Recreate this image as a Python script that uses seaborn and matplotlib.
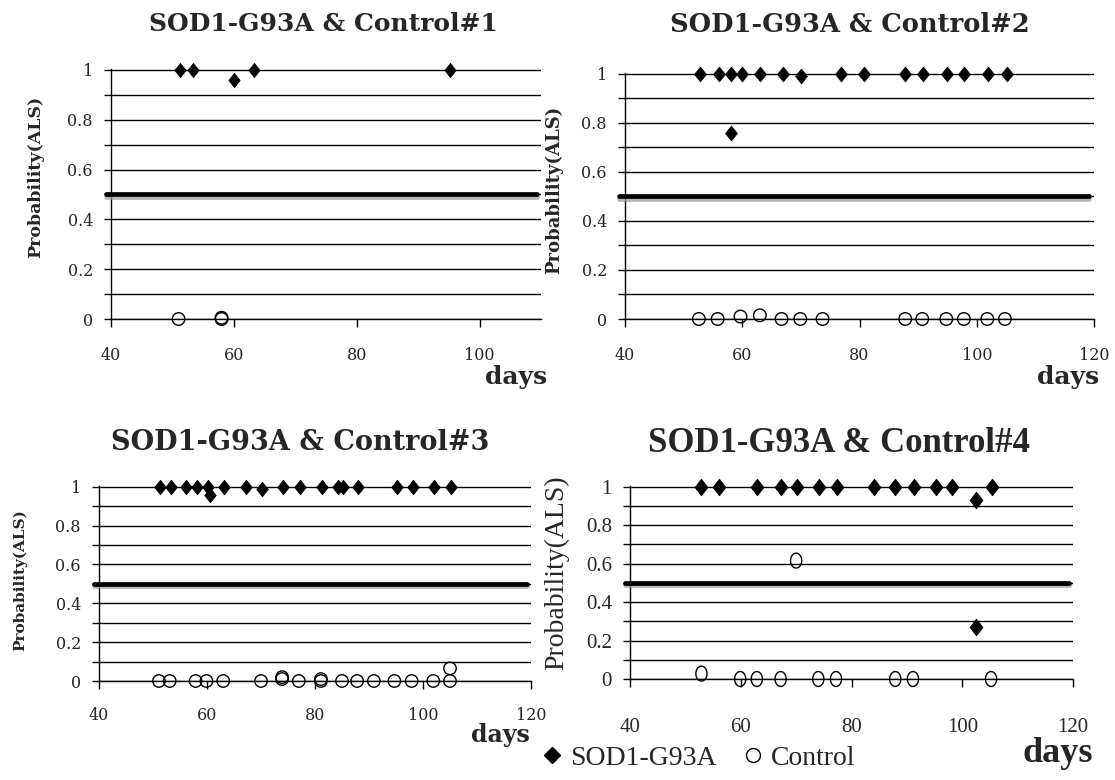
import numpy as np
import pandas as pd
import matplotlib
matplotlib.use("Agg")
import matplotlib.pyplot as plt
import matplotlib.patheffects as pe
from matplotlib.path import Path
from matplotlib.markers import MarkerStyle
from matplotlib.lines import Line2D
import seaborn as sns

sns.set_style("white")
plt.rcParams["font.family"] = ["DejaVu Serif"]

# ---------------- data ----------------
titles = ["SOD1-G93A & Control#1", "SOD1-G93A & Control#2",
          "SOD1-G93A & Control#3", "SOD1-G93A & Control#4"]
series_names = ["SOD1-G93A", "Control"]
threshold = 0.5

p1_sod_x = [51.2, 53.3, 60.1, 63.3, 95.2]
p1_sod_y = [1, 1, 0.96, 1, 1]
p1_ctl_x = [51, 58, 58]
p1_ctl_y = [0, 0, 0.005]

p2_sod_x = [52.8, 56, 58, 58, 59.9, 63, 66.9, 70, 76.9, 80.8, 87.8, 90.9, 95, 97.9, 102, 105.1]
p2_sod_y = [1, 1, 1, 0.76, 1, 1, 1, 0.99, 1, 1, 1, 1, 1, 1, 1, 1]
p2_ctl_x = [52.6, 55.8, 59.7, 63, 66.7, 69.9, 73.7, 87.8, 90.7, 94.8, 97.8, 101.8, 104.8]
p2_ctl_y = [0, 0, 0.01, 0.015, 0, 0, 0, 0, 0, 0, 0, 0, 0]

p3_sod_x = [51.3, 53.3, 56.1, 58.2, 60.2, 60.5, 63.2, 67.3, 70.1, 74.1, 77.2, 81.3,
            84.2, 85.2, 88, 95.1, 98.2, 102, 105.1]
p3_sod_y = [1, 1, 1, 1, 1, 0.956, 1, 1, 0.99, 1, 1, 1, 1, 1, 1, 1, 1, 1, 1]
p3_ctl_x = [51.1, 53.1, 57.9, 59.9, 63, 70, 73.9, 73.9, 77, 81.1, 81.1, 85, 87.8,
            90.9, 94.7, 97.9, 101.9, 105, 105]
p3_ctl_y = [0, 0, 0, 0, 0, 0, 0.02, 0.01, 0, 0.01, 0, 0, 0, 0, 0, 0, 0, 0, 0.065]

p4_sod_x = [52.9, 56.1, 63, 67.2, 70.2, 74.2, 77.3, 84, 87.9, 91.3, 95.2, 98.1, 102.4, 102.4, 105.3]
p4_sod_y = [1, 1, 1, 1, 1, 1, 1, 1, 1, 1, 1, 1, 0.93, 0.27, 1]
p4_ctl_x = [52.9, 59.9, 62.9, 67.2, 70, 74, 77.2, 87.9, 91.1, 105.2]
p4_ctl_y = [0.028, 0, 0, 0, 0.616, 0, 0, 0, 0, 0]

ytick_vals = [0, 0.2, 0.4, 0.6, 0.8, 1]
ytick_labels = ["0", "0.2", "0.4", "0.6", "0.8", "1"]
yminor_vals = [0.1, 0.3, 0.5, 0.7, 0.9]
xticks_p1 = [40, 60, 80, 100]
xticks_rest = [40, 60, 80, 100, 120]
xlims = [(40, 110), (40, 120), (40, 120), (40, 120)]

panels = [
    (p1_sod_x, p1_sod_y, p1_ctl_x, p1_ctl_y),
    (p2_sod_x, p2_sod_y, p2_ctl_x, p2_ctl_y),
    (p3_sod_x, p3_sod_y, p3_ctl_x, p3_ctl_y),
    (p4_sod_x, p4_sod_y, p4_ctl_x, p4_ctl_y),
]

# ---------------- layout ----------------
W, H = 1115, 780
fig = plt.figure(figsize=(W / 100, H / 100), dpi=100)


def rect(l, r, t, b):
    return [l / W, 1 - b / H, (r - l) / W, (b - t) / H]


def fx(x):
    return x / W


def fy(y):
    return 1 - y / H


rects = [rect(111, 541, 69, 319), rect(625, 1094, 73, 319),
         rect(99, 531, 486, 681), rect(630, 1073, 486, 679)]

diamond = MarkerStyle(Path([(0, 1), (0.8, 0), (0, -1), (-0.8, 0), (0, 1)], closed=True))
diamond4 = MarkerStyle(Path([(0, 1), (0.78, 0), (0, -1), (-0.78, 0), (0, 1)], closed=True))
th = np.linspace(0, 2 * np.pi, 60)
ellipse4 = MarkerStyle(Path(np.column_stack([0.75 * np.cos(th), np.sin(th)]), closed=True))

serif_reg = ["DejaVu Serif"]
times = ["Liberation Serif"]

xpads = [14, 14, 13, 22]
dsizes = [105, 115, 110, 145]
csizes = [82, 82, 80, 115]
for i, (sx, sy, cx, cy) in enumerate(panels):
    ax = fig.add_axes(rects[i])
    ax.set_xlim(*xlims[i])
    ax.set_ylim(0, 1.004)
    for s in ["top", "right"]:
        ax.spines[s].set_visible(False)
    for s in ["left", "bottom"]:
        ax.spines[s].set_color("black")
        ax.spines[s].set_linewidth(1)
    ax.grid(False)
    ax.set_yticks(ytick_vals)
    ax.set_yticks(yminor_vals, minor=True)
    ax.yaxis.grid(True, which="both", color="black", lw=1, zorder=1)
    ax.set_axisbelow(True)
    ax.set_xticks(xticks_p1 if i == 0 else xticks_rest)

    tick_font = times if i == 3 else serif_reg
    tick_size = 15 if i == 3 else 11.5
    ax.set_yticklabels(ytick_labels, fontsize=tick_size, family=tick_font)
    ax.set_xticklabels([str(v) for v in (xticks_p1 if i == 0 else xticks_rest)],
                       fontsize=tick_size, family=tick_font)
    ax.tick_params(axis="y", which="both", direction="out", length=5, width=1,
                   color="black", left=True, pad=8)
    ax.tick_params(axis="x", which="both", direction="out", length=6, width=1,
                   color="black", bottom=True, pad=xpads[i])

    # threshold line with soft shadow below
    ax.axhline(threshold, xmin=-0.012, xmax=0.99, color="black", lw=3.4, clip_on=False,
               zorder=3,
               path_effects=[pe.SimpleLineShadow(offset=(0, -1.6), shadow_color="0.6",
                                                 alpha=0.7), pe.Normal()])

    dm = diamond4 if i == 3 else diamond
    cm = ellipse4 if i == 3 else "o"
    sns.scatterplot(x=sx, y=sy, ax=ax, marker=dm, s=dsizes[i],
                    color="black", edgecolor="black", linewidth=0.5,
                    clip_on=False, zorder=5, legend=False)
    sns.scatterplot(x=cx, y=cy, ax=ax, marker=cm, s=csizes[i],
                    color="black", facecolor="none", edgecolor="black", linewidth=1,
                    clip_on=False, zorder=5, legend=False)
    ax.set_xlabel("")
    ax.set_ylabel("")

# titles
fig.text(fx(323), fy(24), titles[0], ha="center", va="center", fontsize=18,
         fontweight="bold", family=serif_reg)
fig.text(fx(850), fy(24), titles[1], ha="center", va="center", fontsize=18.5,
         fontweight="bold", family=serif_reg)
fig.text(fx(300), fy(443), titles[2], ha="center", va="center", fontsize=19.5,
         fontweight="bold", family=serif_reg)
fig.text(fx(839), fy(444), titles[3], ha="center", va="center", fontsize=25,
         fontweight="bold", family=times)

# y labels
ylab = "Probability(ALS)"
fig.text(fx(36), fy(177), ylab, rotation=90, ha="center", va="center", fontsize=12.5,
         fontweight="bold", family=serif_reg)
fig.text(fx(554), fy(190), ylab, rotation=90, ha="center", va="center", fontsize=13,
         fontweight="bold", family=serif_reg)
fig.text(fx(20), fy(580), ylab, rotation=90, ha="center", va="center", fontsize=11,
         fontweight="bold", family=serif_reg)
fig.text(fx(557), fy(573), ylab, rotation=90, ha="center", va="center", fontsize=20,
         family=times)

# x labels
fig.text(fx(516), fy(377), "days", ha="center", va="center", fontsize=18,
         fontweight="bold", family=serif_reg)
fig.text(fx(1068), fy(377), "days", ha="center", va="center", fontsize=18,
         fontweight="bold", family=serif_reg)
fig.text(fx(500), fy(735), "days", ha="center", va="center", fontsize=17,
         fontweight="bold", family=serif_reg)
fig.text(fx(1058), fy(753), "days", ha="center", va="center", fontsize=26,
         fontweight="bold", family=times)

# legend
handles = [Line2D([], [], ls="none", marker="D", color="black", markersize=8),
           Line2D([], [], ls="none", marker="o", markerfacecolor="none",
                  markeredgecolor="black", markersize=10, markeredgewidth=1)]
fig.legend(handles, series_names, loc="center left", bbox_to_anchor=(fx(538), fy(758)),
           ncol=2, frameon=False, handletextpad=0.15, columnspacing=0.8,
           handlelength=1.0, borderpad=0, borderaxespad=0,
           prop={"family": times, "size": 20})

fig.savefig("out.png", dpi=100, facecolor="white")
